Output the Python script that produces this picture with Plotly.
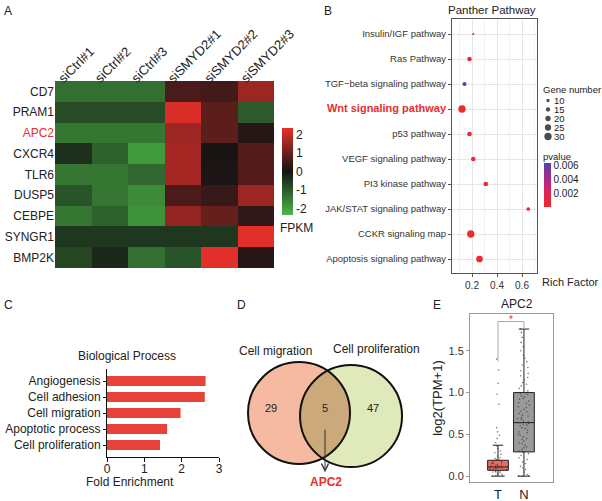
import numpy as np
import plotly.graph_objects as go

W, H = 602, 501
FONT = "Liberation Sans, Arial, sans-serif"
RED = "#e8302a"

# ---------------- data ----------------
# A: heatmap
genes = ["CD7", "PRAM1", "APC2", "CXCR4", "TLR6", "DUSP5", "CEBPE", "SYNGR1", "BMP2K"]
samples = ["siCtrl#1", "siCtrl#2", "siCtrl#3", "siSMYD2#1", "siSMYD2#2", "siSMYD2#3"]
fpkm_z = [
    [-1.3, -1.3, -1.3, 0.6, 0.5, 1.5],
    [-0.8, -0.8, -0.8, 2.2, 0.8, -1.0],
    [-1.4, -1.4, -1.4, 1.5, 0.8, 0.2],
    [-0.4, -1.1, -1.9, 1.6, 0.05, 0.7],
    [-1.4, -1.4, -1.2, 1.6, 0.1, 0.7],
    [-0.9, -1.4, -1.7, 0.6, 0.4, 1.5],
    [-1.4, -1.1, -1.8, 1.4, 0.9, 0.3],
    [-0.5, -0.5, -0.5, -0.5, -0.5, 2.3],
    [-0.7, -0.3, -1.3, -0.9, 2.3, 0.2],
]
highlight_gene = "APC2"
fpkm_ticks = [2, 1, 0, -1, -2]

# B: Panther pathway dot plot
pathways = ["Insulin/IGF pathway", "Ras Pathway", "TGF\u2212beta signaling pathway",
            "Wnt signaling pathway", "p53 pathway", "VEGF signaling pathway",
            "PI3 kinase pathway", "JAK/STAT signaling pathway", "CCKR signaling map",
            "Apoptosis signaling pathway"]
rich_factor = [0.21, 0.18, 0.14, 0.12, 0.18, 0.21, 0.31, 0.65, 0.19, 0.26]
gene_number = [4, 16, 14, 30, 17, 16, 17, 12, 30, 27]
pvalue = [0.0019, 0.0014, 0.0064, 0.0002, 0.0004, 0.0003, 0.0002, 0.0005, 0.0001, 0.0001]
highlight_pathway = "Wnt signaling pathway"
rich_ticks = [0.2, 0.4, 0.6]
rich_minor = [0.1, 0.3, 0.5, 0.7]
gene_number_legend = [10, 15, 20, 25, 30]
pvalue_ticks = [0.002, 0.004, 0.006]

# C: biological process
bp_terms = ["Angiogenesis", "Cell adhesion", "Cell migration", "Apoptotic process", "Cell proliferation"]
fold_enrichment = [2.64, 2.62, 1.97, 1.61, 1.42]
fold_ticks = [0, 1, 2, 3]

# D: Venn
venn_sets = ["Cell migration", "Cell proliferation"]
venn_counts = [29, 5, 47]  # left only, both, right only
venn_gene = "APC2"

# E: box plot
groups = ["T", "N"]
box_q1 = [0.07, 0.29]
box_median = [0.11, 0.64]
box_q3 = [0.19, 1.00]
box_lower = [0.0, 0.0]
box_upper = [0.37, 1.76]
t_points = [0.0, 0.0, 0.0, 0.0, 0.01, 0.02, 0.03, 0.04, 0.05, 0.05, 0.06, 0.06, 0.07, 0.07,
            0.08, 0.08, 0.09, 0.09, 0.1, 0.1, 0.1, 0.11, 0.11, 0.12, 0.12, 0.13, 0.13, 0.14,
            0.15, 0.15, 0.16, 0.17, 0.18, 0.19, 0.2, 0.21, 0.22, 0.24, 0.26, 0.28, 0.3, 0.33,
            0.36, 0.4, 0.45, 0.49, 0.53, 0.58, 0.86, 0.98, 1.11, 1.27, 1.4]
n_points = [0.0, 0.0, 0.0, 0.0, 0.0, 0.02, 0.05, 0.08, 0.1, 0.12, 0.15, 0.17, 0.2, 0.22,
            0.25, 0.27, 0.29, 0.3, 0.32, 0.34, 0.35, 0.37, 0.39, 0.4, 0.42, 0.44, 0.45, 0.47,
            0.49, 0.5, 0.52, 0.53, 0.55, 0.57, 0.58, 0.6, 0.61, 0.62, 0.63, 0.64, 0.65, 0.66,
            0.68, 0.69, 0.7, 0.72, 0.73, 0.75, 0.77, 0.78, 0.8, 0.82, 0.83, 0.85, 0.87, 0.88,
            0.9, 0.92, 0.93, 0.95, 0.96, 0.98, 0.99, 1.0, 1.02, 1.05, 1.08, 1.1, 1.12, 1.15,
            1.18, 1.2, 1.23, 1.26, 1.3, 1.33, 1.37, 1.41, 1.45, 1.5, 1.55, 1.6, 1.66, 1.72, 1.76]
e_ticks = [0.0, 0.5, 1.0, 1.5]
sig_bracket_top = 1.85


# ---------------- helpers ----------------
def px_x(a):
    return a / W


def px_y(b):
    return 1 - b / H


def dom_x(a, b):
    return [a / W, b / W]


def dom_y(top, bottom):
    return [1 - bottom / H, 1 - top / H]


def dot_px(n):
    return 1.3 + 0.2 * n


fig = go.Figure()

# ---------------- A: heatmap ----------------
fig.add_trace(go.Heatmap(
    z=fpkm_z, x=samples, y=genes, zmin=-2.35, zmax=2.35,
    colorscale=[[0, "#4cb848"], [0.5, "#141414"], [1, RED]],
    xaxis="x", yaxis="y", hoverinfo="skip",
    colorbar=dict(x=px_x(282), xanchor="left", y=px_y(171.5), yanchor="middle",
                  len=87 / H, lenmode="fraction", thickness=11, outlinewidth=0,
                  xpad=0, ypad=0, ticks="", tickvals=fpkm_ticks,
                  ticktext=[str(v) for v in fpkm_ticks],
                  tickfont=dict(size=12, color="#222", family=FONT)),
))

# ---------------- B: dot plot ----------------
pcolors = [[0, "#ef2a2a"], [0.3, "#e0244e"], [0.55, "#bb2480"], [0.8, "#8a3096"], [1, "#4a48a8"]]
fig.add_trace(go.Scatter(
    x=rich_factor, y=pathways, mode="markers", xaxis="x2", yaxis="y2", hoverinfo="skip",
    marker=dict(size=[dot_px(n) for n in gene_number], color=pvalue,
                cmin=min(pvalue), cmax=max(pvalue), colorscale=pcolors,
                line=dict(width=0), opacity=1, showscale=True,
                colorbar=dict(x=px_x(544), xanchor="left", y=px_y(185), yanchor="middle",
                              len=44 / H, lenmode="fraction", thickness=7, outlinewidth=0,
                              xpad=0, ypad=0, ticks="", tickvals=pvalue_ticks,
                              ticktext=[f"{v:.3f}" for v in pvalue_ticks],
                              tickfont=dict(size=10, color="#222", family=FONT))),
))
# size legend
fig.add_trace(go.Scatter(
    x=[6] * len(gene_number_legend), y=list(range(len(gene_number_legend))), mode="markers",
    xaxis="x7", yaxis="y7", hoverinfo="skip",
    marker=dict(size=[dot_px(n) for n in gene_number_legend], color="black", line=dict(width=0)),
))

# ---------------- C: bar chart ----------------
fig.add_trace(go.Bar(
    x=fold_enrichment, y=bp_terms, orientation="h", xaxis="x4", yaxis="y4",
    marker=dict(color="#e8433b", line=dict(width=0)), width=0.62, hoverinfo="skip",
))

# ---------------- D: Venn ----------------
r = 1.0
cL = np.array([0.0, 0.0])
cR = np.array([1.02, -0.06])
d = np.hypot(*(cR - cL))
phi = np.arctan2(*(cR - cL)[::-1])
alpha = np.arccos(d / (2 * r))
tA = np.linspace(phi - alpha, phi + alpha, 60)
tB = np.linspace(phi + np.pi - alpha, phi + np.pi + alpha, 60)
lens_x = np.concatenate([cL[0] + r * np.cos(tA), cR[0] + r * np.cos(tB)])
lens_y = np.concatenate([cL[1] + r * np.sin(tA), cR[1] + r * np.sin(tB)])
fig.add_trace(go.Scatter(
    x=lens_x, y=lens_y, fill="toself", fillcolor="#cba97a", mode="lines",
    line=dict(width=0), xaxis="x5", yaxis="y5", hoverinfo="skip",
))

# ---------------- E: box plot ----------------
box_fill = ["#ec6a64", "#9a9a9a"]
for i, g in enumerate(groups):
    fig.add_trace(go.Box(
        x=[g], q1=[box_q1[i]], median=[box_median[i]], q3=[box_q3[i]],
        lowerfence=[box_lower[i]], upperfence=[box_upper[i]],
        fillcolor=box_fill[i], line=dict(color="#222", width=1), width=0.8,
        whiskerwidth=0.5, boxpoints=False, xaxis="x6", yaxis="y6", hoverinfo="skip",
    ))
for g, pts in zip(groups, [t_points, n_points]):
    fig.add_trace(go.Box(
        x=[g] * len(pts), y=pts, boxpoints="all", jitter=0.9, pointpos=0,
        fillcolor="rgba(0,0,0,0)", line=dict(width=0, color="rgba(0,0,0,0)"),
        marker=dict(size=1.6, color="rgba(40,40,40,0.6)"), width=0.8,
        xaxis="x6", yaxis="y6", hoverinfo="skip",
    ))
fig.add_trace(go.Scatter(
    x=[groups[0], groups[0], groups[1], groups[1]],
    y=[max(t_points) - 0.03, sig_bracket_top, sig_bracket_top, box_upper[1]],
    mode="lines", line=dict(color="#aaaaaa", width=1), xaxis="x6", yaxis="y6",
    hoverinfo="skip",
))

# ---------------- layout ----------------
row_text = [f"<span style='color:{RED}'>{g}</span>" if g == highlight_gene else g for g in genes]
path_text = [f"<b><span style='color:{RED};font-size:11px'>{p}</span></b>" if p == highlight_pathway else p
             for p in pathways]

noax = dict(visible=False, showgrid=False, zeroline=False, automargin=False)

layout = dict(
    width=W, height=H, margin=dict(l=0, r=0, t=0, b=0, autoexpand=False),
    paper_bgcolor="white", plot_bgcolor="white", showlegend=False,
    font=dict(family=FONT, size=12, color="#222"),
    # A
    xaxis=dict(domain=dom_x(55, 274), anchor="y", side="top", tickangle=-45,
               tickfont=dict(size=13, color="#222"), ticks="", showgrid=False,
               ticklabelshift=-14, ticklabelstandoff=-8,
               zeroline=False, showline=False, automargin=False),
    yaxis=dict(domain=dom_y(81, 268), anchor="x", autorange="reversed", tickmode="array",
               tickvals=genes, ticktext=row_text, tickfont=dict(size=12, color="#222"),
               ticks="", showgrid=False, zeroline=False, automargin=False),
    # B
    xaxis2=dict(domain=dom_x(452, 537), anchor="y2", range=[0.04, 0.72], tickmode="array",
                tickvals=rich_ticks, ticktext=[f"{v:.1f}" for v in rich_ticks],
                showgrid=True, gridcolor="#e6e6e6", gridwidth=1,
                minor=dict(tickvals=rich_minor, showgrid=True, gridcolor="#f3f3f3", ticks=""),
                showline=True, mirror=True, linecolor="#555", linewidth=1,
                ticks="outside", ticklen=3, tickcolor="#555",
                tickfont=dict(size=10, color="#333"), zeroline=False, automargin=False),
    yaxis2=dict(domain=dom_y(19, 273), anchor="x2", range=[9.56, -0.6], tickmode="array",
                tickvals=pathways, ticktext=path_text, showgrid=True, gridcolor="#e6e6e6",
                showline=True, mirror=True, linecolor="#555", linewidth=1,
                ticks="outside", ticklen=3, tickcolor="#555",
                tickfont=dict(size=9.5, color="#333"), zeroline=False, automargin=False),
    xaxis7=dict(domain=dom_x(542, 572), anchor="y7", range=[0, 30], **noax),
    yaxis7=dict(domain=dom_y(96, 141), anchor="x7", range=[4.5, -0.5], **noax),
    # C
    xaxis4=dict(domain=dom_x(107, 219), anchor="y4", range=[0, 3], tickmode="array",
                tickvals=fold_ticks, showline=True, linecolor="#111", linewidth=1,
                ticks="outside", ticklen=4, tickcolor="#111", ticklabelstandoff=-3,
                tickfont=dict(size=12, color="#222"), showgrid=False, zeroline=False,
                automargin=False),
    yaxis4=dict(domain=dom_y(369, 457), anchor="x4", range=[4.75, -0.75],
                showline=True, linecolor="#111", linewidth=1, ticks="outside", ticklen=3,
                tickcolor="#111", tickfont=dict(size=12, color="#222"),
                showgrid=False, zeroline=False, automargin=False),
    # D
    xaxis5=dict(domain=dom_x(230, 430), anchor="y5", range=[-69 / 51, 131 / 51], **noax),
    yaxis5=dict(domain=dom_y(330, 500), anchor="x5", range=[-87 / 51, 83 / 51], **noax),
    # E
    xaxis6=dict(domain=dom_x(470, 553), anchor="y6", range=[-1.08, 2.12], type="category",
                showline=True, mirror=True, linecolor="#999", linewidth=1, ticks="",
                tickfont=dict(size=13, color="#222"), showgrid=False, zeroline=False,
                automargin=False),
    yaxis6=dict(domain=dom_y(314, 482), anchor="x6", range=[-0.07, 1.94], tickmode="array",
                tickvals=e_ticks, ticktext=[f"{v:.1f}" for v in e_ticks],
                showline=True, mirror=True, linecolor="#999", linewidth=1,
                ticks="outside", ticklen=3, tickcolor="#999",
                tickfont=dict(size=11, color="#333"), showgrid=False, zeroline=False,
                automargin=False,
                title=dict(text="log2(TPM+1)", font=dict(size=13, color="#222"), standoff=2)),
    boxmode="overlay",
)
fig.update_layout(**layout)

# Venn shapes
shapes = []
for c, col in zip([cL, cR], ["#f6b9a1", "#e0e9b9"]):
    shapes.append(dict(type="circle", xref="x5", yref="y5", x0=c[0] - r, x1=c[0] + r,
                       y0=c[1] - r, y1=c[1] + r, fillcolor=col, line=dict(width=0),
                       layer="below"))
for c in [cL, cR]:
    shapes.append(dict(type="circle", xref="x5", yref="y5", x0=c[0] - r, x1=c[0] + r,
                       y0=c[1] - r, y1=c[1] + r, fillcolor="rgba(0,0,0,0)",
                       line=dict(width=2, color="#111"), layer="above"))
fig.update_layout(shapes=shapes)

ann = []


def pann(text, x, y, size=12, xanchor="center", color="#222", **kw):
    ann.append(dict(text=text, x=px_x(x), y=px_y(y), xref="paper", yref="paper",
                    showarrow=False, xanchor=xanchor, yanchor="middle",
                    font=dict(size=size, color=color, family=FONT), **kw))


for letter, (x, y) in zip("ABCDE", [(8, 11), (328, 11), (8, 305), (241, 305), (437, 305)]):
    pann(letter, x, y, size=12)
pann("FPKM", 278, 228, size=12, xanchor="left")
pann("Panther Pathway", 492, 10, size=11.5)
pann("Gene number", 541, 90, size=9.5, xanchor="left")
pann("pvalue", 541, 156, size=9.5, xanchor="left")
pann("Rich Factor", 540, 282, size=11, xanchor="left")
pann("Biological Process", 127, 356, size=12)
pann("Fold Enrichment", 130, 482, size=12)
pann(venn_gene, 517, 304, size=12)

# size legend labels
for i, n in enumerate(gene_number_legend):
    ann.append(dict(text=str(n), x=10, y=i, xref="x7", yref="y7", showarrow=False,
                    xanchor="left", yanchor="middle", font=dict(size=9.5, color="#222")))

# Venn texts
mid = (cL + cR) / 2
ann.append(dict(text=venn_sets[0], x=cL[0] - 0.47 * r, y=cL[1] + 1.22 * r, xref="x5", yref="y5",
                showarrow=False, font=dict(size=12, color="#222")))
ann.append(dict(text=venn_sets[1], x=cR[0] + 0.49 * r, y=cR[1] + 1.31 * r, xref="x5", yref="y5",
                showarrow=False, font=dict(size=12, color="#222")))
for txt, x in zip(venn_counts, [cL[0] - 0.55 * r, mid[0], cR[0] + 0.43 * r]):
    ann.append(dict(text=str(txt), x=x, y=0.1, xref="x5", yref="y5", showarrow=False,
                    font=dict(size=11, color="#222")))
ann.append(dict(text="", x=mid[0], y=-1.16, ax=mid[0], ay=-0.3, xref="x5", yref="y5",
                axref="x5", ayref="y5", showarrow=True, arrowhead=5, arrowsize=1.4,
                arrowwidth=1, arrowcolor="#333"))
ann.append(dict(text=f"<b>{venn_gene}</b>", x=mid[0] + 0.02, y=-1.35, xref="x5", yref="y5",
                showarrow=False, font=dict(size=12, color=RED)))

# significance star
ann.append(dict(text="*", x=0.5, y=sig_bracket_top + 0.02, xref="x6", yref="y6", showarrow=False,
                font=dict(size=10, color=RED), yanchor="middle"))

fig.update_layout(annotations=ann)
fig.write_html("out.html", config={"displayModeBar": False, "staticPlot": True},
               post_script="document.body.style.margin='0px';")
